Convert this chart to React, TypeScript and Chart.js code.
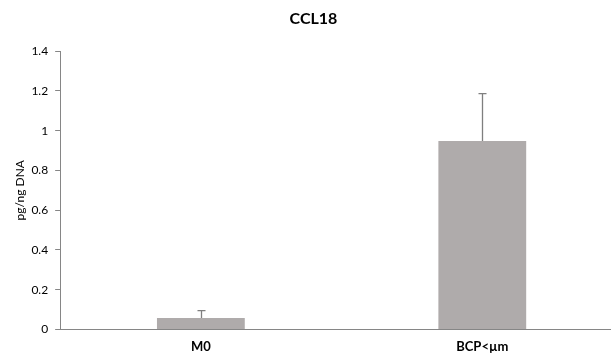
import React, { useEffect, useRef } from "react";
import { Chart, registerables } from "chart.js";

Chart.register(...registerables);

const categories = ["M0", "BCP<µm"];
const values = [0.057, 0.948];
const errors = [0.037, 0.238];
const yTicksMax = 1.4;
const yStep = 0.2;

const errorBarPlugin = {
  id: "errorBars",
  afterDatasetsDraw(chart: any) {
    const { ctx } = chart;
    const yScale = chart.scales.y;
    const meta = chart.getDatasetMeta(0);
    ctx.save();
    ctx.strokeStyle = "#7f7f7f";
    ctx.lineWidth = 1.3;
    meta.data.forEach((bar: any, i: number) => {
      const x = Math.round(bar.x) + 0.5;
      const yTop = yScale.getPixelForValue(values[i]);
      const yErr = yScale.getPixelForValue(values[i] + errors[i]);
      ctx.beginPath();
      ctx.moveTo(x, yTop);
      ctx.lineTo(x, yErr);
      ctx.moveTo(x - 4, yErr);
      ctx.lineTo(x + 4, yErr);
      ctx.stroke();
    });
    ctx.restore();
  },
};

export default function App() {
  const ref = useRef<HTMLCanvasElement>(null);
  useEffect(() => {
    if (!ref.current) return;
    const chart = new Chart(ref.current, {
      type: "bar",
      data: {
        labels: categories,
        datasets: [
          {
            data: values,
            backgroundColor: "#afabab",
            borderWidth: 0,
            barPercentage: 0.312,
            categoryPercentage: 1,
          },
        ],
      },
      options: {
        animation: false,
        responsive: false,
        maintainAspectRatio: false,
        layout: { padding: { left: 4, right: 7, top: 0, bottom: -9 } },
        plugins: {
          legend: { display: false },
          tooltip: { enabled: false },
          title: {
            display: true,
            text: "CCL18",
            color: "#000000",
            font: { family: "Lato", size: 16, weight: "bold" },
            padding: { top: 9, bottom: 23 },
          },
        },
        scales: {
          x: {
            grid: { drawOnChartArea: false, drawTicks: false },
            border: { color: "#868686", width: 1 },
            ticks: {
              color: "#000000",
              font: { family: "Lato", size: 13, weight: "bold" },
              padding: 10,
            },
          },
          y: {
            min: 0,
            max: yTicksMax,
            ticks: {
              stepSize: yStep,
              color: "#000000",
              font: { family: "Lato", size: 12 },
              padding: 7,
              callback: (v: any) => String(Math.round(Number(v) * 10) / 10),
            },
            grid: {
              drawOnChartArea: false,
              drawTicks: true,
              tickLength: 5,
              color: "#868686",
            },
            border: { color: "#868686", width: 1 },
            title: {
              display: true,
              text: "pg/ng DNA",
              color: "#000000",
              font: { family: "Lato", size: 12 },
              padding: { top: 9, bottom: -3 },
            },
          },
        },
      },
      plugins: [errorBarPlugin],
    });
    return () => chart.destroy();
  }, []);
  return (
    <div
      style={{
        position: "fixed",
        left: 0,
        top: 0,
        width: 611,
        height: 356,
        overflow: "hidden",
        background: "#ffffff",
      }}
    >
      <canvas ref={ref} width={630} height={356} style={{ display: "block", width: 630, height: 356 }} />
    </div>
  );
}
